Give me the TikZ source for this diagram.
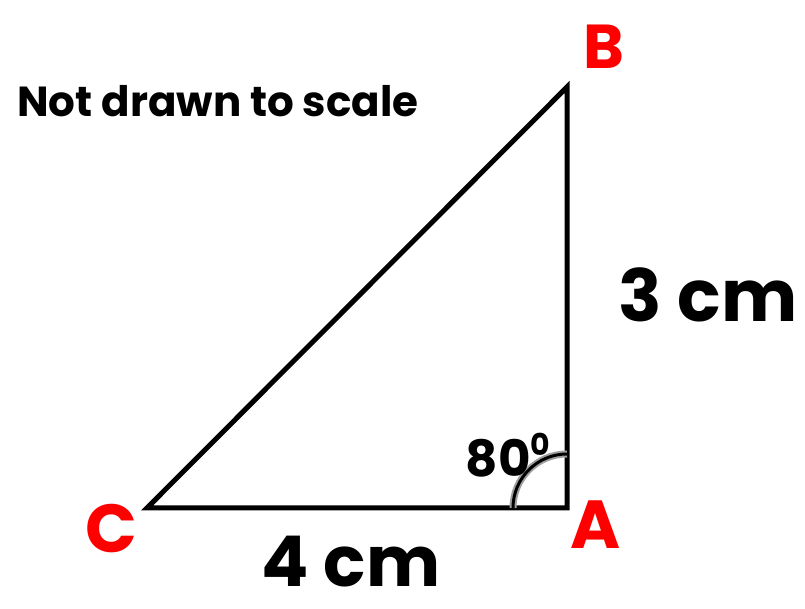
\documentclass[tikz,border=0pt]{standalone}
\usepackage{fontspec}
\setmainfont{Poppins}
\begin{document}
\begin{tikzpicture}[x=1pt,y=1pt,
  side/.style={line width=5pt,line join=miter},
  lbl/.style={font=\bfseries\fontsize{#1}{#1}\selectfont,inner sep=0pt},
  vlbl/.style={lbl=#1,text=red},
  arcouter/.style={line width=7pt,draw=gray!75},
  arcinner/.style={line width=3pt,draw=black}]
\useasboundingbox (0,0) rectangle (805,609);
\coordinate (C) at (147,101);
\coordinate (A) at (567,101);
\coordinate (B) at (567,522);
\coordinate (arcS) at (513,101);
\draw[side] (C) -- (A) -- (B) -- cycle;
\draw[arcouter] (arcS) arc[start angle=180,end angle=90,radius=54pt];
\draw[arcinner] (arcS) arc[start angle=180,end angle=90,radius=54pt];
\node[lbl=42] (note) at (218,508) {Not drawn to scale};
\node[vlbl=62] (lB) at (604,562) {B};
\node[vlbl=68] (lC) at (111,80) {C};
\node[vlbl=68] (lA) at (596,84) {A};
\node[lbl=72] (l3) at (708,314) {3 cm};
\node[lbl=70,text depth=0pt] (l4) at (351,48) {4 cm};
\node[lbl=50] (ang) at (508,154) {80\raisebox{0.42em}{\fontsize{30}{30}\selectfont 0}};
\end{tikzpicture}
\end{document}
